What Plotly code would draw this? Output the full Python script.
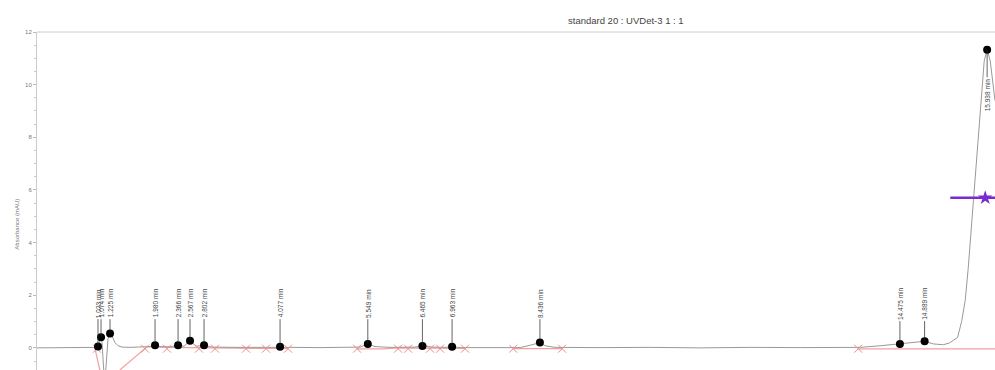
import plotly.graph_objects as go

# ---- data ----
trace_t = [0.0, 0.386, 0.72, 0.956, 0.99, 1.023, 1.057, 1.074, 1.091, 1.107, 1.124, 1.149, 1.166,
           1.191, 1.225, 1.258, 1.309, 1.359, 1.426, 1.56, 1.896, 1.98, 2.064, 2.232, 2.366, 2.466,
           2.567, 2.668, 2.802, 2.936, 3.406, 3.993, 4.077, 4.245, 4.748, 5.252, 5.419, 5.549,
           5.671, 5.923, 6.342, 6.465, 6.628, 6.846, 6.963, 7.097, 7.6, 8.104, 8.272, 8.436,
           8.523, 8.691, 9.446, 10.285, 11.124, 11.963, 12.802, 13.641, 13.809, 14.144, 14.475,
           14.648, 14.889, 15.04, 15.205, 15.309, 15.443, 15.51, 15.57, 15.62, 15.705, 15.805,
           15.889, 15.938, 15.99, 16.07]
trace_v = [0.0, 0.01, 0.0, 0.01, 0.02, 0.05, 0.32, 0.40, 0.2, -0.6, -1.0, -1.0, -0.3,
           0.35, 0.55, 0.45, 0.2, 0.08, 0.03, 0.02, 0.05, 0.10, 0.05, 0.04, 0.10, 0.06,
           0.27, 0.06, 0.10, 0.03, 0.02, 0.03, 0.04, 0.02, 0.01, 0.01, 0.03, 0.15,
           0.05, 0.02, 0.03, 0.07, 0.03, 0.02, 0.04, 0.01, 0.02, 0.01, 0.1, 0.20,
           0.08, 0.02, 0.01, 0.02, 0.0, 0.02, 0.01, 0.0, 0.02, 0.08, 0.15,
           0.18, 0.25, 0.15, 0.12, 0.19, 0.4, 1.0, 1.8, 3.0, 5.4, 8.5,
           10.9, 11.33, 10.9, 9.4]

peak_t = [1.023, 1.074, 1.225, 1.980, 2.366, 2.567, 2.802, 4.077, 5.549, 6.465, 6.963, 8.436,
          14.475, 14.889, 15.938]
peak_v = [0.05, 0.40, 0.55, 0.10, 0.10, 0.27, 0.10, 0.04, 0.15, 0.07, 0.04, 0.20,
          0.15, 0.25, 11.33]
peak_labels = ["1.023 min", "1.074 min", "1.225 min", "1.980 min", "2.366 min", "2.567 min",
               "2.802 min", "4.077 min", "5.549 min", "6.465 min", "6.963 min", "8.436 min",
               "14.475 min", "14.889 min", "15.938 min"]

mark_t = [1.007, 1.812, 2.181, 2.718, 2.987, 3.507, 3.842, 4.211, 5.369, 6.057, 6.225, 6.594,
          6.762, 7.181, 7.987, 8.809, 13.775]
mark_v = [-0.03] * len(mark_t)

base_t = [0.97, 1.06, None, 1.39, 1.85, 2.18, 2.72, 2.99, 3.51, 3.84, 4.21, None,
          5.37, 5.80, 6.06, 6.59, 7.18, None, 7.99, 8.81, None, 13.775, 16.07]
base_v = [0.0, -0.9, None, -0.84, 0.05, 0.02, 0.0, 0.0, -0.02, -0.02, -0.02, None,
          -0.04, -0.04, 0.0, 0.0, -0.02, None, -0.03, -0.03, None, -0.04, -0.04]

width_t = [15.32, 16.07]
width_v = [5.7, 5.7]
star_t = [15.906]
star_v = [5.7]

label_y = [1.7] * 14 + [9.6]

y_ticks = [0, 2, 4, 6, 8, 10, 12]

FONT = "Liberation Sans, Arial"

fig = go.Figure()
fig.add_trace(go.Scatter(x=base_t, y=base_v, mode="lines",
                         line=dict(color="#f2a0a0", width=1.2), hoverinfo="skip"))
fig.add_trace(go.Scatter(x=trace_t, y=trace_v, mode="lines",
                         line=dict(color="#999999", width=1), hoverinfo="skip"))
fig.add_trace(go.Scatter(x=mark_t, y=mark_v, mode="markers",
                         marker=dict(symbol="x-thin", size=8,
                                     line=dict(color="#f08c8c", width=1)),
                         hoverinfo="skip"))
fig.add_trace(go.Scatter(x=width_t, y=width_v, mode="lines",
                         line=dict(color="#7a2bd0", width=2.5), hoverinfo="skip"))
fig.add_trace(go.Scatter(x=star_t, y=star_v, mode="markers",
                         marker=dict(symbol="star", size=11, color="#7a2bd0"),
                         hoverinfo="skip"))
fig.add_trace(go.Scatter(x=peak_t, y=peak_v, mode="markers",
                         marker=dict(color="black", size=8), hoverinfo="skip"))

for t, v, lab, ly in zip(peak_t, peak_v, peak_labels, label_y):
    fig.add_annotation(x=t, y=v, ax=t, ay=ly, axref="x", ayref="y", text=lab,
                       textangle=-90, showarrow=True, arrowhead=0, arrowwidth=0.7,
                       arrowcolor="#222", standoff=0, startstandoff=0,
                       font=dict(size=6.5, color="#444", family=FONT))

fig.add_annotation(x=(626 - 37) / 958, y=1 + (32 - 13) / 338, xref="paper", yref="paper",
                   showarrow=False, text="standard 20 : UVDet-3 1 : 1",
                   font=dict(size=9.5, color="#444", family=FONT))
fig.add_annotation(x=(12 - 37) / 958, y=0.43, xref="paper", yref="paper", showarrow=False,
                   text="Absorbance (mAU)", textangle=-90,
                   font=dict(size=6, color="#777", family=FONT))

fig.add_shape(type="line", xref="paper", yref="paper", x0=0, x1=1, y0=1, y1=1,
              line=dict(color="#cccccc", width=1))

fig.update_layout(
    width=995, height=370,
    margin=dict(l=37, r=0, t=32, b=0, autoexpand=False),
    paper_bgcolor="white", plot_bgcolor="white",
    showlegend=False,
    xaxis=dict(range=[0, 16.07], visible=False, automargin=False),
    yaxis=dict(range=[-0.84, 12], tickvals=y_ticks, ticktext=[str(v) for v in y_ticks],
               automargin=False,
               showgrid=False, zeroline=False, showline=True, linecolor="#cccccc",
               linewidth=1, ticks="outside", ticklen=3, tickcolor="#bbbbbb",
               tickfont=dict(size=6, color="#777", family=FONT),
               minor=dict(dtick=0.5, ticks="outside", ticklen=2, tickcolor="#cccccc")),
)

fig.write_html("out.html", config={"displayModeBar": False},
               post_script="document.body.style.margin='0';document.body.style.overflow='hidden';")
